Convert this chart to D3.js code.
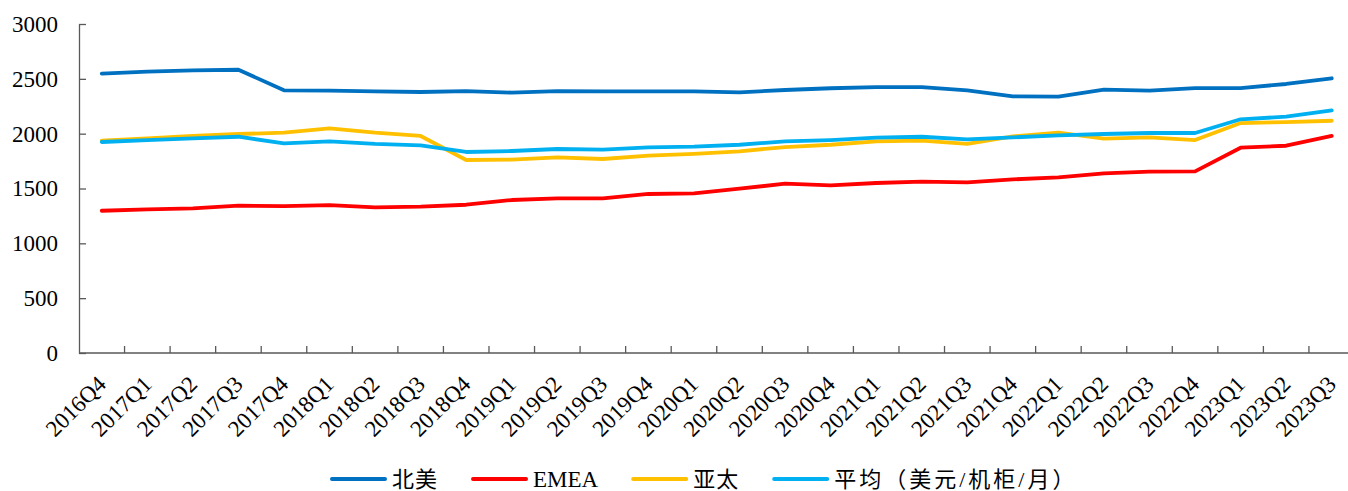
<!DOCTYPE html>
<html>
<head>
<meta charset="utf-8">
<script src="https://cdn.jsdelivr.net/npm/d3@7"></script>
<style>
  html, body { margin: 0; padding: 0; background: #fff; }
  svg { display: block; }
  .serif { font-family: "Liberation Serif", "Times New Roman", serif; }
  .legend-text { font-family: "Liberation Serif", "Noto Sans CJK SC", serif; }
</style>
</head>
<body>
<svg id="chart" width="1348" height="491"></svg>
<script>
// Quarterly rack rental prices by region (USD per rack per month)
const quarters = [
  "2016Q4",
  "2017Q1", "2017Q2", "2017Q3", "2017Q4",
  "2018Q1", "2018Q2", "2018Q3", "2018Q4",
  "2019Q1", "2019Q2", "2019Q3", "2019Q4",
  "2020Q1", "2020Q2", "2020Q3", "2020Q4",
  "2021Q1", "2021Q2", "2021Q3", "2021Q4",
  "2022Q1", "2022Q2", "2022Q3", "2022Q4",
  "2023Q1", "2023Q2", "2023Q3"
];

const northAmerica = [2547, 2565, 2578, 2583, 2395, 2392, 2386, 2380, 2388, 2374, 2388, 2386, 2386, 2386,
                      2377, 2398, 2414, 2425, 2425, 2395, 2340, 2337, 2401, 2392, 2416, 2416, 2453, 2505];
const emea = [1297, 1310, 1319, 1343, 1340, 1349, 1328, 1334, 1352, 1395, 1410, 1410, 1450, 1456,
              1498, 1544, 1529, 1550, 1562, 1556, 1583, 1602, 1638, 1653, 1656, 1872, 1890, 1979];
const asiaPacific = [1936, 1957, 1979, 1997, 2009, 2049, 2009, 1979, 1760, 1763, 1784, 1769, 1799, 1815,
                     1839, 1878, 1899, 1930, 1936, 1906, 1975, 2009, 1954, 1966, 1942, 2097, 2106, 2118];
const average = [1924, 1942, 1957, 1972, 1912, 1930, 1906, 1894, 1833, 1842, 1860, 1854, 1875, 1881,
                 1899, 1930, 1942, 1963, 1972, 1948, 1966, 1985, 1997, 2006, 2006, 2131, 2155, 2213];

const yTicks = [0, 500, 1000, 1500, 2000, 2500, 3000];

const seriesNames = ["北美", "EMEA", "亚太", "平均（美元/机柜/月）"];
const seriesColors = ["#0070C0", "#FF0000", "#FFC000", "#00B0F0"];
const seriesValues = [northAmerica, emea, asiaPacific, average];

(function draw() {
  const svg = d3.select("#chart");
  const axisColor = "#595959";

  const plotLeft = 79, plotRight = 1354.5, plotTop = 24, plotBottom = 353;

  const x = d3.scaleBand().domain(quarters).range([plotLeft, plotRight]).padding(0);
  const y = d3.scaleLinear().domain([0, 3000]).range([plotBottom, plotTop]);

  // Y axis: ticks point into the plot area
  const yAxis = svg.append("g")
    .attr("transform", `translate(${plotLeft},0)`)
    .call(d3.axisLeft(y).tickValues(yTicks).tickFormat(d3.format("d"))
      .tickSizeInner(-7).tickSizeOuter(0).tickPadding(21));
  yAxis.attr("font-family", null).attr("font-size", null);
  yAxis.select(".domain").attr("stroke", axisColor).attr("stroke-width", 1.3);
  yAxis.selectAll(".tick line").attr("stroke", axisColor).attr("stroke-width", 1.3);
  yAxis.selectAll(".tick text")
    .attr("class", "serif")
    .attr("x", -21)
    .attr("fill", "#000")
    .attr("font-size", 23);

  // X axis: tick marks sit on the category boundaries, pointing up
  const xAxis = svg.append("g").attr("transform", `translate(0,${plotBottom})`);
  xAxis.append("line")
    .attr("x1", plotLeft).attr("x2", plotRight)
    .attr("stroke", axisColor).attr("stroke-width", 1.3);
  const boundaries = quarters.map(q => x(q) + x.bandwidth());
  xAxis.selectAll("line.tick")
    .data(boundaries)
    .join("line")
    .attr("class", "tick")
    .attr("x1", d => d).attr("x2", d => d)
    .attr("y1", 0).attr("y2", -7)
    .attr("stroke", axisColor).attr("stroke-width", 1.3);

  xAxis.selectAll("text.label")
    .data(quarters)
    .join("text")
    .attr("class", "label serif")
    .attr("transform", d => `translate(${x(d) + x.bandwidth() / 2},27) rotate(-45)`)
    .attr("text-anchor", "end")
    .attr("dy", "0.35em")
    .attr("fill", "#000")
    .attr("font-size", 23)
    .text(d => d);

  // Series lines
  const line = d3.line()
    .x((d, i) => x(quarters[i]) + x.bandwidth() / 2)
    .y(d => y(d));

  svg.append("g")
    .selectAll("path")
    .data(seriesValues)
    .join("path")
    .attr("d", d => line(d))
    .attr("fill", "none")
    .attr("stroke", (d, i) => seriesColors[i])
    .attr("stroke-width", 3.8)
    .attr("stroke-linejoin", "round")
    .attr("stroke-linecap", "round");

  // Legend along the bottom
  const legend = svg.append("g").attr("transform", "translate(0,479)");
  const letterGaps = [1, 0, 1, 3];
  let cursor = 332;
  seriesNames.forEach((name, i) => {
    legend.append("line")
      .attr("x1", cursor).attr("x2", cursor + 53)
      .attr("y1", 0).attr("y2", 0)
      .attr("stroke", seriesColors[i])
      .attr("stroke-width", 4)
      .attr("stroke-linecap", "round");
    const t = legend.append("text")
      .attr("class", "legend-text")
      .attr("x", cursor + 60)
      .attr("dy", "0.35em")
      .attr("fill", "#000")
      .attr("font-size", i === 1 ? 23 : 22)
      .attr("letter-spacing", letterGaps[i])
      .text(name);
    const w = t.node().getComputedTextLength();
    cursor += 60 + w + 35;
  });
})();
</script>
</body>
</html>
